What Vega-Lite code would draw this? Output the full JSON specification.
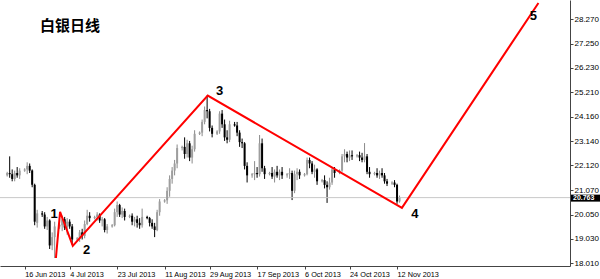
{
  "$schema": "https://vega.github.io/schema/vega-lite/v6.json",
  "width": 570,
  "height": 266,
  "autosize": {"type": "none"},
  "padding": {"left": 0, "top": 0, "right": 30, "bottom": 13},
  "background": "white",
  "view": {"stroke": null},
  "config": {"font": "Liberation Sans", "axis": {"labelOverlap": false, "labelFlush": false}},
  "title": {"text": "白银日线", "orient": "top", "anchor": "start", "frame": "group", "offset": -35, "dx": 40, "font": "Noto Sans CJK SC", "fontSize": 15, "fontWeight": "bold", "color": "#000000"},
  "datasets": {
    "candles": [
      {"d":"2013-06-09","o":21.70,"h":21.85,"l":21.65,"c":21.80},
      {"d":"2013-06-10","o":21.80,"h":22.50,"l":21.60,"c":21.75},
      {"d":"2013-06-11","o":21.75,"h":21.95,"l":21.45,"c":21.55},
      {"d":"2013-06-12","o":21.55,"h":21.90,"l":21.45,"c":21.80},
      {"d":"2013-06-13","o":21.80,"h":22.05,"l":21.60,"c":21.70},
      {"d":"2013-06-14","o":21.70,"h":22.00,"l":21.55,"c":21.90},
      {"d":"2013-06-16","o":21.90,"h":22.00,"l":21.85,"c":21.95},
      {"d":"2013-06-17","o":21.95,"h":22.25,"l":21.75,"c":22.10},
      {"d":"2013-06-18","o":22.10,"h":22.20,"l":21.80,"c":21.90},
      {"d":"2013-06-19","o":21.90,"h":21.95,"l":21.20,"c":21.30},
      {"d":"2013-06-20","o":21.30,"h":21.35,"l":19.60,"c":19.75},
      {"d":"2013-06-21","o":19.70,"h":20.25,"l":19.50,"c":20.10},
      {"d":"2013-06-23","o":20.10,"h":20.20,"l":19.95,"c":20.05},
      {"d":"2013-06-24","o":20.05,"h":20.15,"l":19.45,"c":19.55},
      {"d":"2013-06-25","o":19.55,"h":19.95,"l":19.40,"c":19.80},
      {"d":"2013-06-26","o":19.80,"h":19.85,"l":18.60,"c":18.75},
      {"d":"2013-06-27","o":18.75,"h":19.30,"l":18.55,"c":19.10},
      {"d":"2013-06-28","o":19.10,"h":19.75,"l":18.22,"c":19.55},
      {"d":"2013-06-30","o":19.55,"h":19.65,"l":19.45,"c":19.60},
      {"d":"2013-07-01","o":19.60,"h":20.00,"l":19.35,"c":19.85},
      {"d":"2013-07-02","o":19.85,"h":19.95,"l":19.40,"c":19.50},
      {"d":"2013-07-03","o":19.50,"h":19.90,"l":19.20,"c":19.75},
      {"d":"2013-07-04","o":19.75,"h":19.85,"l":19.45,"c":19.55},
      {"d":"2013-07-05","o":19.55,"h":19.65,"l":18.78,"c":19.00},
      {"d":"2013-07-07","o":19.00,"h":19.10,"l":18.95,"c":19.05},
      {"d":"2013-07-08","o":19.05,"h":19.40,"l":18.90,"c":19.30},
      {"d":"2013-07-09","o":19.30,"h":19.45,"l":19.00,"c":19.15},
      {"d":"2013-07-10","o":19.15,"h":19.80,"l":19.05,"c":19.65},
      {"d":"2013-07-11","o":19.65,"h":20.25,"l":19.60,"c":20.00},
      {"d":"2013-07-12","o":20.00,"h":20.15,"l":19.75,"c":19.90},
      {"d":"2013-07-14","o":19.90,"h":20.00,"l":19.85,"c":19.95},
      {"d":"2013-07-15","o":19.95,"h":20.15,"l":19.80,"c":20.05},
      {"d":"2013-07-16","o":20.05,"h":20.10,"l":19.70,"c":19.80},
      {"d":"2013-07-17","o":19.80,"h":19.95,"l":19.55,"c":19.85},
      {"d":"2013-07-18","o":19.85,"h":19.90,"l":19.30,"c":19.40},
      {"d":"2013-07-19","o":19.40,"h":19.65,"l":19.25,"c":19.55},
      {"d":"2013-07-21","o":19.55,"h":19.65,"l":19.50,"c":19.60},
      {"d":"2013-07-22","o":19.60,"h":20.30,"l":19.55,"c":20.15},
      {"d":"2013-07-23","o":20.15,"h":20.60,"l":19.95,"c":20.45},
      {"d":"2013-07-24","o":20.45,"h":20.50,"l":19.95,"c":20.05},
      {"d":"2013-07-25","o":20.05,"h":20.35,"l":19.90,"c":20.20},
      {"d":"2013-07-26","o":20.20,"h":20.30,"l":19.80,"c":19.95},
      {"d":"2013-07-28","o":19.95,"h":20.05,"l":19.90,"c":20.00},
      {"d":"2013-07-29","o":20.00,"h":20.10,"l":19.60,"c":19.75},
      {"d":"2013-07-30","o":19.75,"h":19.95,"l":19.55,"c":19.85},
      {"d":"2013-07-31","o":19.85,"h":20.00,"l":19.50,"c":19.70},
      {"d":"2013-08-01","o":19.70,"h":19.90,"l":19.45,"c":19.60},
      {"d":"2013-08-02","o":19.60,"h":20.30,"l":19.50,"c":19.95},
      {"d":"2013-08-04","o":19.95,"h":20.00,"l":19.85,"c":19.90},
      {"d":"2013-08-05","o":19.90,"h":19.95,"l":19.55,"c":19.70},
      {"d":"2013-08-06","o":19.70,"h":19.85,"l":19.45,"c":19.55},
      {"d":"2013-08-07","o":19.55,"h":19.70,"l":19.10,"c":19.40},
      {"d":"2013-08-08","o":19.40,"h":20.25,"l":19.35,"c":20.15},
      {"d":"2013-08-09","o":20.15,"h":20.70,"l":20.00,"c":20.60},
      {"d":"2013-08-11","o":20.60,"h":20.70,"l":20.55,"c":20.65},
      {"d":"2013-08-12","o":20.65,"h":21.20,"l":20.50,"c":21.05},
      {"d":"2013-08-13","o":21.05,"h":21.70,"l":20.80,"c":21.55},
      {"d":"2013-08-14","o":21.55,"h":22.05,"l":21.35,"c":21.90},
      {"d":"2013-08-15","o":21.90,"h":22.35,"l":21.70,"c":22.20},
      {"d":"2013-08-16","o":22.20,"h":23.00,"l":22.00,"c":22.85},
      {"d":"2013-08-18","o":22.85,"h":22.95,"l":22.75,"c":22.90},
      {"d":"2013-08-19","o":22.90,"h":23.30,"l":22.40,"c":22.60},
      {"d":"2013-08-20","o":22.60,"h":23.20,"l":22.45,"c":23.05},
      {"d":"2013-08-21","o":23.05,"h":23.15,"l":22.30,"c":22.45},
      {"d":"2013-08-22","o":22.45,"h":22.95,"l":22.20,"c":22.80},
      {"d":"2013-08-23","o":22.80,"h":23.60,"l":22.70,"c":23.45},
      {"d":"2013-08-25","o":23.45,"h":23.55,"l":23.40,"c":23.50},
      {"d":"2013-08-26","o":23.50,"h":24.05,"l":23.35,"c":23.95},
      {"d":"2013-08-27","o":23.95,"h":24.60,"l":23.85,"c":24.45},
      {"d":"2013-08-28","o":24.45,"h":25.06,"l":24.10,"c":24.40},
      {"d":"2013-08-29","o":24.40,"h":24.50,"l":23.55,"c":23.70},
      {"d":"2013-08-30","o":23.70,"h":23.80,"l":23.30,"c":23.45},
      {"d":"2013-09-01","o":23.45,"h":23.60,"l":23.40,"c":23.55},
      {"d":"2013-09-02","o":23.55,"h":24.40,"l":23.45,"c":24.30},
      {"d":"2013-09-03","o":24.30,"h":24.45,"l":23.70,"c":23.85},
      {"d":"2013-09-04","o":23.85,"h":24.05,"l":23.15,"c":23.30},
      {"d":"2013-09-05","o":23.30,"h":23.60,"l":23.05,"c":23.20},
      {"d":"2013-09-06","o":23.20,"h":24.00,"l":23.10,"c":23.85},
      {"d":"2013-09-08","o":23.85,"h":23.95,"l":23.75,"c":23.80},
      {"d":"2013-09-09","o":23.80,"h":23.95,"l":23.35,"c":23.50},
      {"d":"2013-09-10","o":23.50,"h":23.60,"l":22.90,"c":23.10},
      {"d":"2013-09-11","o":23.10,"h":23.25,"l":22.85,"c":23.05},
      {"d":"2013-09-12","o":23.05,"h":23.10,"l":21.95,"c":22.10},
      {"d":"2013-09-13","o":22.10,"h":22.25,"l":21.40,"c":21.70},
      {"d":"2013-09-15","o":21.70,"h":21.80,"l":21.60,"c":21.75},
      {"d":"2013-09-16","o":21.75,"h":22.30,"l":21.50,"c":21.80},
      {"d":"2013-09-17","o":21.80,"h":22.05,"l":21.60,"c":21.75},
      {"d":"2013-09-18","o":21.75,"h":23.40,"l":21.65,"c":23.05},
      {"d":"2013-09-19","o":23.05,"h":23.25,"l":21.85,"c":22.00},
      {"d":"2013-09-20","o":22.00,"h":22.10,"l":21.55,"c":21.75},
      {"d":"2013-09-22","o":21.75,"h":21.85,"l":21.70,"c":21.80},
      {"d":"2013-09-23","o":21.80,"h":22.05,"l":21.55,"c":21.65},
      {"d":"2013-09-24","o":21.65,"h":21.95,"l":21.40,"c":21.85},
      {"d":"2013-09-25","o":21.85,"h":22.10,"l":21.60,"c":21.70},
      {"d":"2013-09-26","o":21.70,"h":21.95,"l":21.50,"c":21.85},
      {"d":"2013-09-27","o":21.85,"h":22.05,"l":21.55,"c":21.70},
      {"d":"2013-09-29","o":21.70,"h":21.80,"l":21.60,"c":21.75},
      {"d":"2013-09-30","o":21.75,"h":22.00,"l":21.55,"c":21.80},
      {"d":"2013-10-01","o":21.80,"h":21.90,"l":20.66,"c":21.05},
      {"d":"2013-10-02","o":21.05,"h":21.90,"l":20.95,"c":21.75},
      {"d":"2013-10-03","o":21.75,"h":22.00,"l":21.50,"c":21.85},
      {"d":"2013-10-04","o":21.85,"h":21.95,"l":21.55,"c":21.70},
      {"d":"2013-10-06","o":21.70,"h":21.80,"l":21.65,"c":21.75},
      {"d":"2013-10-07","o":21.75,"h":22.45,"l":21.70,"c":22.35},
      {"d":"2013-10-08","o":22.35,"h":22.45,"l":22.00,"c":22.20},
      {"d":"2013-10-09","o":22.20,"h":22.30,"l":21.75,"c":21.85},
      {"d":"2013-10-10","o":21.85,"h":22.15,"l":21.60,"c":21.95},
      {"d":"2013-10-11","o":21.95,"h":22.00,"l":21.30,"c":21.45},
      {"d":"2013-10-13","o":21.45,"h":21.55,"l":21.40,"c":21.50},
      {"d":"2013-10-14","o":21.50,"h":21.70,"l":21.15,"c":21.30},
      {"d":"2013-10-15","o":21.30,"h":21.45,"l":20.54,"c":21.20},
      {"d":"2013-10-16","o":21.20,"h":21.60,"l":21.10,"c":21.40},
      {"d":"2013-10-17","o":21.40,"h":22.05,"l":21.30,"c":21.95},
      {"d":"2013-10-18","o":21.95,"h":22.05,"l":21.60,"c":21.80},
      {"d":"2013-10-20","o":21.80,"h":21.95,"l":21.75,"c":21.90},
      {"d":"2013-10-21","o":21.90,"h":22.60,"l":21.85,"c":22.50},
      {"d":"2013-10-22","o":22.50,"h":22.80,"l":22.25,"c":22.60},
      {"d":"2013-10-23","o":22.60,"h":22.70,"l":22.25,"c":22.45},
      {"d":"2013-10-24","o":22.45,"h":22.75,"l":22.30,"c":22.55},
      {"d":"2013-10-25","o":22.55,"h":22.75,"l":22.35,"c":22.50},
      {"d":"2013-10-27","o":22.50,"h":22.60,"l":22.45,"c":22.55},
      {"d":"2013-10-28","o":22.55,"h":22.70,"l":22.30,"c":22.45},
      {"d":"2013-10-29","o":22.45,"h":22.65,"l":22.25,"c":22.35},
      {"d":"2013-10-30","o":22.35,"h":23.06,"l":22.25,"c":22.50},
      {"d":"2013-10-31","o":22.50,"h":22.60,"l":21.75,"c":21.85},
      {"d":"2013-11-01","o":21.85,"h":22.05,"l":21.60,"c":21.75},
      {"d":"2013-11-03","o":21.75,"h":21.85,"l":21.70,"c":21.80},
      {"d":"2013-11-04","o":21.80,"h":22.00,"l":21.60,"c":21.70},
      {"d":"2013-11-05","o":21.70,"h":21.90,"l":21.55,"c":21.80},
      {"d":"2013-11-06","o":21.80,"h":22.00,"l":21.60,"c":21.70},
      {"d":"2013-11-07","o":21.70,"h":21.80,"l":21.35,"c":21.45},
      {"d":"2013-11-08","o":21.45,"h":21.55,"l":21.25,"c":21.35},
      {"d":"2013-11-10","o":21.35,"h":21.45,"l":21.30,"c":21.40},
      {"d":"2013-11-11","o":21.40,"h":21.50,"l":21.20,"c":21.30},
      {"d":"2013-11-12","o":21.30,"h":21.35,"l":20.50,"c":20.60},
      {"d":"2013-11-13","o":20.60,"h":20.85,"l":20.55,"c":20.763}
    ],
    "wave": [
      {"d":"2013-06-28T12:00:00Z","v":18.22},
      {"d":"2013-06-30T04:00:00Z","v":20.16},
      {"d":"2013-07-05T06:00:00Z","v":18.73},
      {"d":"2013-08-28T06:00:00Z","v":25.06},
      {"d":"2013-11-13T23:00:00Z","v":20.33},
      {"d":"2014-01-07T14:00:00Z","v":28.96}
    ],
    "labels": [
      {"d":"2013-06-27T19:00:00Z","v":20.07,"t":"1"},
      {"d":"2013-07-10T18:00:00Z","v":18.56,"t":"2"},
      {"d":"2013-09-02T01:00:00Z","v":25.25,"t":"3"},
      {"d":"2013-11-19T02:00:00Z","v":20.07,"t":"4"},
      {"d":"2014-01-05T12:00:00Z","v":28.41,"t":"5"}
    ]
  },
  "layer": [
    {
      "data": {"name": "candles"},
      "mark": {"type": "rule", "strokeWidth": 1},
      "encoding": {
        "x": {
          "field": "d", "type": "temporal", "title": null,
          "scale": {"type": "utc", "domain": [{"year": 2013, "month": 6, "date": 8, "hours": 3, "utc": true}, {"year": 2014, "month": 1, "date": 18, "hours": 5, "utc": true}]},
          "axis": {
            "values": [
              {"year": 2013, "month": 6, "date": 16, "utc": true},
              {"year": 2013, "month": 7, "date": 4, "utc": true},
              {"year": 2013, "month": 7, "date": 23, "utc": true},
              {"year": 2013, "month": 8, "date": 11, "utc": true},
              {"year": 2013, "month": 8, "date": 29, "utc": true},
              {"year": 2013, "month": 9, "date": 17, "utc": true},
              {"year": 2013, "month": 10, "date": 6, "utc": true},
              {"year": 2013, "month": 10, "date": 24, "utc": true},
              {"year": 2013, "month": 11, "date": 12, "utc": true}
            ],
            "format": "%-d %b %Y", "labelAlign": "left", "labelBaseline": "top", "labelPadding": 1,
            "labelFontSize": 7.3, "labelColor": "#000000", "labelFlush": false, "labelOverlap": false,
            "tickSize": 3, "tickColor": "#444444", "domainColor": "#444444", "grid": false
          }
        },
        "y": {
          "field": "l", "type": "quantitative", "title": null,
          "scale": {"domain": [17.884, 29.084], "nice": false, "zero": false},
          "axis": {
            "orient": "right",
            "values": [18.01, 19.03, 20.05, 21.07, 22.12, 23.14, 24.16, 25.21, 26.23, 27.25, 28.27],
            "format": ".3f", "labelFontSize": 8, "labelColor": "#000000", "labelPadding": 1,
            "labelOverlap": false, "labelFlush": false, "tickCount": 11,
            "tickSize": 3, "tickColor": "#444444", "domainColor": "#444444", "grid": false
          }
        },
        "y2": {"field": "h"},
        "color": {"condition": {"test": "datum.c >= datum.o", "value": "#8a8a8a"}, "value": "#000000"}
      }
    },
    {
      "data": {"values": [{"p": 20.763}]},
      "mark": {"type": "rule", "color": "#c8c8c8", "strokeWidth": 1},
      "encoding": {"y": {"field": "p", "type": "quantitative", "title": null}}
    },
    {
      "data": {"name": "candles"},
      "mark": {"type": "bar", "size": 2},
      "encoding": {
        "x": {"field": "d", "type": "temporal", "title": null},
        "y": {"field": "o", "type": "quantitative", "title": null},
        "y2": {"field": "c"},
        "color": {"condition": {"test": "datum.c >= datum.o", "value": "#9e9e9e"}, "value": "#000000"}
      }
    },
    {
      "data": {"name": "wave"},
      "mark": {"type": "line", "color": "#ff0000", "strokeWidth": 2},
      "encoding": {
        "x": {"field": "d", "type": "temporal", "title": null},
        "y": {"field": "v", "type": "quantitative", "title": null}
      }
    },
    {
      "data": {"name": "labels"},
      "mark": {"type": "text", "font": "Liberation Sans", "fontSize": 13, "fontWeight": "bold", "color": "#000000", "align": "center", "baseline": "middle"},
      "encoding": {
        "x": {"field": "d", "type": "temporal", "title": null},
        "y": {"field": "v", "type": "quantitative", "title": null},
        "text": {"field": "t"}
      }
    },
    {
      "data": {"values": [{"p": 20.763, "t": "20.763"}]},
      "mark": {"type": "rule", "color": "#000000", "strokeWidth": 7, "xOffset": 1, "x2Offset": 30, "yOffset": 0.5},
      "encoding": {
        "x": {"value": "width"},
        "x2": {"value": "width"},
        "y": {"field": "p", "type": "quantitative", "title": null}
      }
    },
    {
      "data": {"values": [{"p": 20.763, "t": "20.763"}]},
      "mark": {"type": "text", "color": "#ffffff", "fontSize": 7, "fontWeight": "bold", "align": "left", "baseline": "middle", "dx": 3, "dy": 0.5},
      "encoding": {
        "x": {"value": "width"},
        "y": {"field": "p", "type": "quantitative", "title": null},
        "text": {"field": "t"}
      }
    }
  ]
}
